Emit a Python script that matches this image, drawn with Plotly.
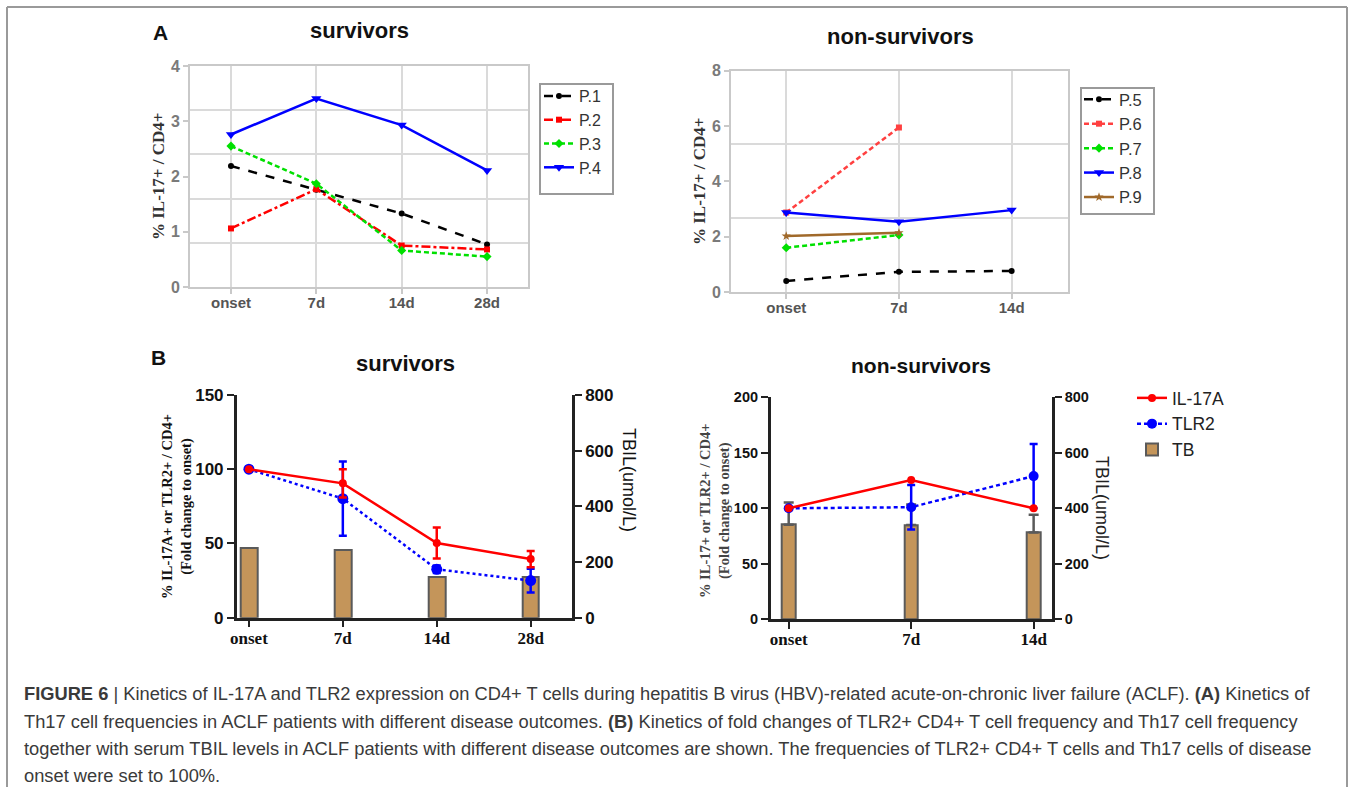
import plotly.graph_objects as go

W, H = 1354, 787

# ---------------- data ----------------
cats_surv = ["onset", "7d", "14d", "28d"]
cats_non = ["onset", "7d", "14d"]

# Panel A survivors (% IL-17+ / CD4+)
p1 = [2.19, 1.76, 1.33, 0.77]
p2 = [1.06, 1.77, 0.75, 0.68]
p3 = [2.55, 1.87, 0.66, 0.55]
p4 = [2.76, 3.41, 2.93, 2.11]

# Panel A non-survivors
p5 = [0.40, 0.73, 0.76]
p6 = [2.87, 5.95]
p7 = [1.60, 2.06]
p8 = [2.87, 2.54, 2.96]
p9 = [2.02, 2.14]

# Panel B survivors
il17_surv = [100, 90.5, 50.3, 39.5]
il17_surv_err = [0, 9.5, 10.5, 5.5]
tlr2_surv = [100, 80.2, 32.6, 25.0]
tlr2_surv_err = [0, 25, 2.5, 8]
tb_surv = [249, 243, 146, 146]

# Panel B non-survivors
il17_non = [100, 125.5, 100]
tlr2_non = [100, 101, 129]
tlr2_non_err = [0, 20, 29]
tb_non = [341, 340, 313]
tb_non_err = [80, 74, 64]

# ---------------- helpers ----------------
def px(x):
    return x / W

def py(y):
    return 1 - y / H

fig = go.Figure()

GRAYLINE = "#c9c9c9"
GRID = "#dadada"
TICKGRAY = "#7a7a7a"
SANS = "Liberation Sans"
SERIF = "Liberation Serif"

# ---- Panel A survivors ----
a_specs = [
    ("P.1", p1, "#000000", "dash", "circle", 6),
    ("P.2", p2, "#ff0000", "dashdot", "square", 6),
    ("P.3", p3, "#00e000", "5px,3px", "diamond", 7),
    ("P.4", p4, "#0000ff", "solid", "triangle-down", 9),
]
for name, vals, col, dash, sym, ms in a_specs:
    fig.add_trace(go.Scatter(
        x=cats_surv[:len(vals)], y=vals, name=name, mode="lines+markers",
        line=dict(color=col, width=2.5, dash=dash),
        marker=dict(symbol=sym, size=ms, color=col),
        xaxis="x", yaxis="y", legend="legend"))

# ---- Panel A non-survivors ----
an_specs = [
    ("P.5", p5, "#000000", "dash", "circle", 6),
    ("P.6", p6, "#ff4040", "5px,3px", "square", 6),
    ("P.7", p7, "#00e000", "5px,3px", "diamond", 7),
    ("P.8", p8, "#0000ff", "solid", "triangle-down", 9),
    ("P.9", p9, "#a0692a", "solid", "star", 7),
]
for name, vals, col, dash, sym, ms in an_specs:
    fig.add_trace(go.Scatter(
        x=cats_non[:len(vals)], y=vals, name=name, mode="lines+markers",
        line=dict(color=col, width=2.5, dash=dash),
        marker=dict(symbol=sym, size=ms, color=col),
        xaxis="x2", yaxis="y2", legend="legend2"))

TAN = "#c4955a"
BAROUT = "#5a5a5a"

# ---- Panel B survivors ----
fig.add_trace(go.Bar(
    x=cats_surv, y=tb_surv, name="TB", width=0.18,
    marker=dict(color=TAN, line=dict(color=BAROUT, width=2)),
    xaxis="x3", yaxis="y3", showlegend=False))
fig.add_trace(go.Scatter(
    x=cats_surv, y=tlr2_surv, name="TLR2", mode="lines+markers",
    line=dict(color="#0000ff", width=2.5, dash="dot"),
    marker=dict(symbol="circle", size=11, color="#0000ff"),
    error_y=dict(type="data", array=tlr2_surv_err, color="#0000ff", thickness=2.5, width=4),
    xaxis="x3", yaxis="y4", showlegend=False))
fig.add_trace(go.Scatter(
    x=cats_surv, y=il17_surv, name="IL-17A", mode="lines+markers",
    line=dict(color="#ff0000", width=2.5),
    marker=dict(symbol="circle", size=8, color="#ff0000"),
    error_y=dict(type="data", array=il17_surv_err, color="#ff0000", thickness=2.5, width=4),
    xaxis="x3", yaxis="y4", showlegend=False))

# ---- Panel B non-survivors ----
fig.add_trace(go.Bar(
    x=cats_non, y=tb_non, name="TB", width=0.11,
    marker=dict(color=TAN, line=dict(color=BAROUT, width=2)),
    error_y=dict(type="data", symmetric=False, array=tb_non_err, arrayminus=[0, 0, 0],
                 color=BAROUT, thickness=2.5, width=5),
    xaxis="x5", yaxis="y5", legend="legend3", legendrank=3))
fig.add_trace(go.Scatter(
    x=cats_non, y=tlr2_non, name="TLR2", mode="lines+markers",
    line=dict(color="#0000ff", width=2.5, dash="4px,3px"),
    marker=dict(symbol="circle", size=10, color="#0000ff"),
    error_y=dict(type="data", array=tlr2_non_err, color="#0000ff", thickness=2.5, width=4),
    xaxis="x5", yaxis="y6", legend="legend3", legendrank=2))
fig.add_trace(go.Scatter(
    x=cats_non, y=il17_non, name="IL-17A", mode="lines+markers",
    line=dict(color="#ff0000", width=2.5),
    marker=dict(symbol="circle", size=8, color="#ff0000"),
    xaxis="x5", yaxis="y6", legend="legend3", legendrank=1))

# ---------------- axes ----------------
a_xfont = dict(family=SANS, size=15, color="#555555", weight="bold")

def a_xaxis(domain, rng, anchor):
    return dict(domain=domain, range=rng, anchor=anchor, type="category",
                showline=True, mirror=True, linecolor=GRAYLINE, linewidth=2,
                showgrid=True, gridcolor=GRID, gridwidth=1.5,
                ticks="outside", ticklen=5, tickwidth=1.5, tickcolor=GRAYLINE,
                ticklabelstandoff=-4,
                tickfont=a_xfont, zeroline=False, fixedrange=True, automargin=False)

def a_yaxis(domain, rng, dtick, minor_vals, anchor):
    return dict(domain=domain, range=rng, anchor=anchor, dtick=dtick, tick0=0,
                showline=True, mirror=True, linecolor=GRAYLINE, linewidth=2,
                showgrid=False, zeroline=False,
                ticks="outside", ticklen=5, tickwidth=1.5, tickcolor=GRAYLINE,
                tickfont=dict(family=SANS, size=16, color=TICKGRAY, weight="bold"),
                tickformat="d",
                minor=dict(tickmode="array", tickvals=minor_vals, showgrid=True,
                           gridcolor=GRID, gridwidth=1.5, ticks=""),
                fixedrange=True, automargin=False)

fig.update_layout(
    xaxis=a_xaxis([px(190), px(528)], [-0.48, 3.48], "y"),
    yaxis=a_yaxis([py(287), py(66)], [0, 4], 1, [0.8, 1.6, 2.4, 3.2], "x"),
    xaxis2=a_xaxis([px(731), px(1068)], [-0.49, 2.5], "y2"),
    yaxis2=a_yaxis([py(292), py(70.7)], [0, 8], 2, [8 / 3, 16 / 3], "x2"),
)

b_tickfont = dict(family=SANS, size=17, color="#111111", weight="bold")
b_tickfont_small = dict(family=SANS, size=14.5, color="#111111", weight="bold")
b_xfont = dict(family=SERIF, size=17, color="#111111", weight="bold")
BLINE = "#222222"

def b_xaxis(domain, rng, anchor):
    return dict(domain=domain, range=rng, anchor=anchor, type="category",
                showline=True, linecolor=BLINE, linewidth=2.5, showgrid=False,
                ticks="outside", ticklen=7, tickwidth=2, tickcolor=BLINE,
                ticklabelstandoff=-4,
                tickfont=b_xfont, zeroline=False, fixedrange=True, automargin=False)

def b_yright(domain, anchor, font):
    return dict(domain=domain, range=[0, 800], dtick=200, anchor=anchor, side="right",
                showline=True, linecolor=BLINE, linewidth=2.5, showgrid=False,
                ticks="outside", ticklen=7, tickwidth=2, tickcolor=BLINE,
                tickfont=font, zeroline=False, fixedrange=True, automargin=False)

def b_yleft(rng, dtick, anchor, over, font):
    return dict(range=rng, dtick=dtick, anchor=anchor, overlaying=over, side="left",
                showline=True, linecolor=BLINE, linewidth=2.5, showgrid=False,
                ticks="outside", ticklen=7, tickwidth=2, tickcolor=BLINE,
                tickfont=font, zeroline=False, fixedrange=True, automargin=False)

fig.update_layout(
    xaxis3=b_xaxis([px(236.7), px(572)], [-0.13, 3.44], "y3"),
    yaxis3=b_yright([py(617.7), py(395)], "x3", b_tickfont),
    yaxis4=b_yleft([0, 150], 50, "x3", "y3", b_tickfont),
    xaxis5=b_xaxis([px(770.7), px(1052)], [-0.147, 2.15], "y5"),
    yaxis5=b_yright([py(619.3), py(397.3)], "x5", b_tickfont_small),
    yaxis6=b_yleft([0, 200], 50, "x5", "y5", b_tickfont_small),
)

# ---------------- legends ----------------
leg_font = dict(family=SANS, size=16, color="#333333")
fig.update_layout(
    legend=dict(x=px(539), y=py(79), xanchor="left", yanchor="top",
                bgcolor="rgba(0,0,0,0)", borderwidth=0, font=leg_font,
                itemwidth=30, tracegroupgap=0),
    legend2=dict(x=px(1079), y=py(82), xanchor="left", yanchor="top",
                 bgcolor="rgba(0,0,0,0)", borderwidth=0,
                 font=dict(family=SANS, size=16.5, color="#333333"),
                 itemwidth=30, tracegroupgap=0),
    legend3=dict(x=px(1132), y=py(380), xanchor="left", yanchor="top",
                 bgcolor="rgba(0,0,0,0)", borderwidth=0,
                 font=dict(family=SANS, size=17.5, color="#222222"),
                 itemwidth=30, traceorder="normal"),
)

# ---------------- shapes ----------------
shapes = [
    dict(type="rect", xref="paper", yref="paper", x0=px(540), x1=px(613), y0=py(194), y1=py(84),
         line=dict(color="#9a9a9a", width=2)),
    dict(type="rect", xref="paper", yref="paper", x0=px(1081), x1=px(1154), y0=py(214), y1=py(88),
         line=dict(color="#9a9a9a", width=2)),
    dict(type="line", xref="paper", yref="paper", x0=px(7), x1=px(1347), y0=py(7), y1=py(7),
         line=dict(color="#9a9a9a", width=2)),
    dict(type="line", xref="paper", yref="paper", x0=px(7), x1=px(7), y0=py(7), y1=0,
         line=dict(color="#9a9a9a", width=2)),
    dict(type="line", xref="paper", yref="paper", x0=px(1347), x1=px(1347), y0=py(7), y1=0,
         line=dict(color="#9a9a9a", width=2)),
]

# ---------------- annotations ----------------
def ann(text, x, y, size, family=SANS, color="#111111", angle=0, xanchor="center", bold=True):
    return dict(text=f"<b>{text}</b>" if bold else text, x=px(x), y=py(y), xref="paper", yref="paper",
                showarrow=False, textangle=angle, xanchor=xanchor, yanchor="middle",
                font=dict(family=family, size=size, color=color))

anns = [
    ann("A", 160, 32, 21),
    ann("B", 158, 357, 21),
    ann("survivors", 359, 31, 22),
    ann("non-survivors", 900, 37, 22),
    ann("survivors", 405, 363, 22),
    ann("non-survivors", 921, 366, 21),
    ann("% IL-17+ / CD4+", 158, 176, 17, family=SERIF, color="#333333", angle=-90),
    ann("% IL-17+ / CD4+", 699, 181, 17, family=SERIF, color="#333333", angle=-90),
    ann("% IL-17A+ or TLR2+ / CD4+<br>(Fold change to onset)", 177, 507, 14.5,
        family=SERIF, color="#111111", angle=-90),
    ann("% IL-17+ or TLR2+ / CD4+<br>(Fold change to onset)", 715, 511, 14.5,
        family=SERIF, color="#444444", angle=-90),
    ann("TBIL(umol/L)", 629, 480, 18, color="#111111", angle=90, bold=False),
    ann("TBIL(umol/L)", 1102, 508, 18, color="#222222", angle=90, bold=False),
]

cap_lines = [
    "<b>FIGURE 6</b> | Kinetics of IL-17A and TLR2 expression on CD4+ T cells during hepatitis B virus (HBV)-related acute-on-chronic liver failure (ACLF). <b>(A)</b> Kinetics of",
    "Th17 cell frequencies in ACLF patients with different disease outcomes. <b>(B)</b> Kinetics of fold changes of TLR2+ CD4+ T cell frequency and Th17 cell frequency",
    "together with serum TBIL levels in ACLF patients with different disease outcomes are shown. The frequencies of TLR2+ CD4+ T cells and Th17 cells of disease",
    "onset were set to 100%.",
]
cap_y = [693, 721, 748, 775]
for t, yy in zip(cap_lines, cap_y):
    anns.append(dict(text=t, x=px(22), y=py(yy), xref="paper", yref="paper", showarrow=False,
                     xanchor="left", yanchor="middle",
                     font=dict(family=SANS, size=18.3, color="#3a3a3a")))

fig.update_layout(
    width=W, height=H, margin=dict(l=0, r=0, t=0, b=0, autoexpand=False),
    paper_bgcolor="white", plot_bgcolor="white",
    shapes=shapes, annotations=anns, bargap=0,
)

fig.write_html("out.html", config={"displayModeBar": False},
               post_script="document.body.style.margin='0';document.body.style.overflow='hidden';")
